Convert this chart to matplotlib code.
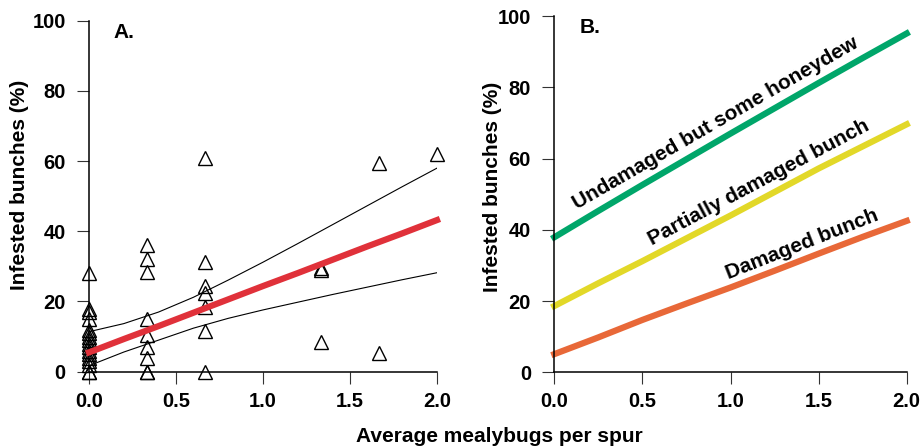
import matplotlib
matplotlib.use("Agg")
import matplotlib.pyplot as plt

plt.rcParams['font.family'] = ['Liberation Sans', 'DejaVu Sans']
plt.rcParams['font.weight'] = 'bold'

# ---- Panel A data ----
obs_x = [0, 0, 0, 0, 0, 0, 0, 0, 0, 0, 0, 0, 0, 0, 0, 0, 0,
         1/3, 1/3, 1/3, 1/3, 1/3, 1/3, 1/3, 1/3, 1/3,
         2/3, 2/3, 2/3, 2/3, 2/3, 2/3, 2/3,
         4/3, 4/3, 4/3,
         5/3, 5/3,
         2.0]
obs_y = [28, 18, 17, 15, 12, 11, 10, 9, 8, 7, 6, 5, 4, 3, 2, 0, 0,
         36, 32, 28.5, 15, 10.5, 7, 4, 0, 0,
         61, 31.3, 24.4, 22.5, 18.5, 11.7, 0,
         29.5, 29, 8.5,
         59.4, 5.4,
         62]

fit_x = [0, 0.2, 0.4, 0.6, 0.8, 1.0, 1.2, 1.4, 1.6, 1.8, 2.0]
fit_mid = [5.5, 9.3, 13.0, 16.8, 20.6, 24.4, 28.1, 31.9, 35.7, 39.4, 43.2]
fit_upper = [11.4, 13.7, 17.0, 21.2, 26.1, 31.2, 36.5, 41.9, 47.3, 52.7, 58.0]
fit_lower = [1.7, 5.6, 9.0, 12.4, 15.2, 17.6, 19.8, 22.0, 24.1, 26.2, 28.2]

# ---- Panel B data ----
b_x = [0, 0.25, 0.5, 0.75, 1.0, 1.25, 1.5, 1.75, 2.0]
undamaged = [37.9, 45.3, 52.6, 59.8, 67.0, 74.1, 81.2, 88.2, 95.1]
partial = [18.6, 25.0, 31.2, 37.6, 44.0, 50.6, 57.2, 63.4, 69.6]
damaged = [5.1, 9.8, 14.7, 19.3, 23.8, 28.5, 33.3, 38.0, 42.5]

series_labels = ["Undamaged but some honeydew", "Partially damaged bunch", "Damaged bunch"]
series_colors = ["#00a66a", "#e2d828", "#e86838"]

xticks = [0.0, 0.5, 1.0, 1.5, 2.0]
xticklabels = ["0.0", "0.5", "1.0", "1.5", "2.0"]
yticks = [0, 20, 40, 60, 80, 100]
yticklabels = ["0", "20", "40", "60", "80", "100"]

W, H = 921, 447
fig = plt.figure(figsize=(W / 100, H / 100), dpi=100)

def px_axes(x0, x1, ytop, ybot):
    return fig.add_axes([x0 / W, 1 - ybot / H, (x1 - x0) / W, (ybot - ytop) / H])

axA = px_axes(89, 437, 20.7, 371.7)
axB = px_axes(554.3, 906.7, 16, 372.3)

for ax in (axA, axB):
    ax.set_xlim(0, 2)
    ax.set_ylim(0, 100)
    ax.spines['top'].set_visible(False)
    ax.spines['right'].set_visible(False)
    ax.spines['left'].set_linewidth(1.1)
    ax.spines['bottom'].set_linewidth(1.1)
    ax.set_xticks(xticks)
    ax.set_xticklabels(xticklabels, fontsize=14.5, fontweight='bold')
    ax.set_yticks(yticks)
    ax.set_yticklabels(yticklabels, fontsize=14.5, fontweight='bold')
    ax.tick_params(axis='both', direction='out', length=8.3, width=0.8, color='#333333')
    ax.tick_params(axis='x', pad=6)
    ax.tick_params(axis='y', pad=8.5)
    ax.patch.set_alpha(0)

# Panel A
axA.plot(obs_x, obs_y, linestyle='none', marker='^', markersize=10.5,
         markerfacecolor='none', markeredgecolor='black', markeredgewidth=1.0,
         clip_on=False, zorder=3)
axA.plot(fit_x, fit_upper, color='black', linewidth=0.8, zorder=2)
axA.plot(fit_x, fit_lower, color='black', linewidth=0.8, zorder=2)
axA.plot(fit_x, fit_mid, color='#e0313a', linewidth=4.5, solid_capstyle='projecting',
         clip_on=False, zorder=4)
axA.text(0.138, 95, "A.", fontsize=15, fontweight='bold', ha='left', va='baseline')

# Panel B
for ys, c in zip([undamaged, partial, damaged], series_colors):
    axB.plot(b_x, ys, color=c, linewidth=4.5, solid_capstyle='projecting', clip_on=False)
label_pos = [(0.915, 70.0, 30), (1.163, 53.3, 28), (1.405, 36.0, 21.5)]
for lab, (tx, ty, rot) in zip(series_labels, label_pos):
    axB.text(tx, ty, lab, fontsize=15, fontweight='bold', rotation=rot,
             rotation_mode='anchor', ha='center', va='center')
axB.text(0.146, 95.1, "B.", fontsize=15, fontweight='bold', ha='left', va='baseline')

# Axis labels
fig.text(20 / W, 1 - 185 / H, "Infested bunches (%)", rotation=90, fontsize=15,
         fontweight='bold', ha='center', va='center')
fig.text(492.5 / W, 1 - 186.7 / H, "Infested bunches (%)", rotation=90, fontsize=15,
         fontweight='bold', ha='center', va='center')
fig.text(499.2 / W, 1 - 441.7 / H, "Average mealybugs per spur", fontsize=15,
         fontweight='bold', ha='center', va='baseline')

fig.savefig("out.png", dpi=100)
